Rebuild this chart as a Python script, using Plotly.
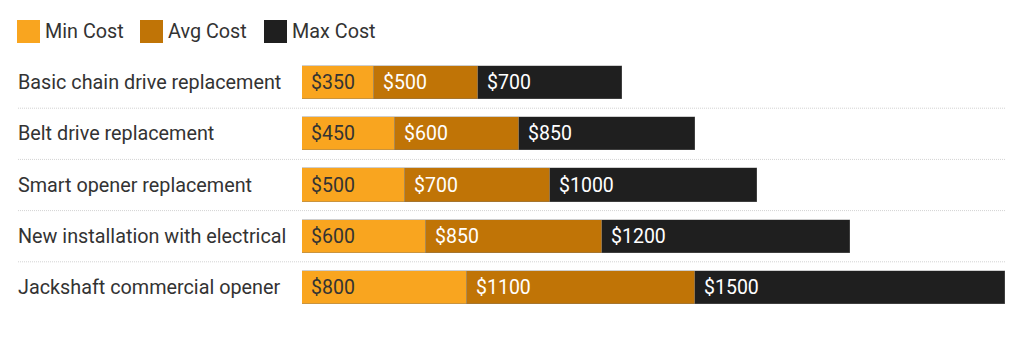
import plotly.graph_objects as go

# Garage door opener replacement cost ranges
tasks = [
    "Basic chain drive replacement",
    "Belt drive replacement",
    "Smart opener replacement",
    "New installation with electrical",
    "Jackshaft commercial opener",
]
min_cost = [350, 450, 500, 600, 800]
avg_cost = [500, 600, 700, 850, 1100]
max_cost = [700, 850, 1000, 1200, 1500]

series_names = ["Min Cost", "Avg Cost", "Max Cost"]
series_values = [min_cost, avg_cost, max_cost]
series_colors = ["#F9A51F", "#C07406", "#1F1F1F"]
label_colors = ["#333333", "#FFFFFF", "#FFFFFF"]

FONT = "Roboto, Arial, sans-serif"
W, H = 1024, 339
ML, MR, MT, MB = 302, 19, 57, 26
PW = W - ML - MR
PH = H - MT - MB


def px_x(p):
    return (p - ML) / PW


def px_y(p):
    return (H - MB - p) / PH


fig = go.Figure()
ypos = list(range(len(tasks)))

for name, vals, col in zip(series_names, series_values, series_colors):
    fig.add_trace(go.Bar(
        name=name,
        y=ypos,
        x=vals,
        orientation="h",
        marker=dict(color=col, line=dict(color="rgba(120,120,120,0.6)", width=0.6)),
        width=0.645,
        hoverinfo="x+name",
        showlegend=False,
    ))

annotations = []
# value labels at the start of each segment
for i in range(len(tasks)):
    base = 0
    for vals, tcol in zip(series_values, label_colors):
        annotations.append(dict(
            x=base, y=i, xref="x", yref="y",
            text=f"${vals[i]}", showarrow=False,
            xanchor="left", yanchor="middle", xshift=7,
            font=dict(family=FONT, size=19.5, color=tcol),
        ))
        base += vals[i]

# task labels in the left column
for i, t in enumerate(tasks):
    annotations.append(dict(
        x=px_x(16), y=i, xref="paper", yref="y",
        text=t, showarrow=False, xanchor="left", yanchor="middle",
        font=dict(family=FONT, size=19.8, color="#333333"),
    ))

shapes = []
# dotted row separators
for i in range(len(tasks) - 1):
    shapes.append(dict(
        type="line", xref="paper", yref="y",
        x0=px_x(18), x1=px_x(1005), y0=i + 0.5, y1=i + 0.5,
        line=dict(color="#D3D3D3", width=1, dash="1px,1px"),
    ))

# legend swatches and names
legend_items = [(17, 43), (140, 166), (264, 290)]
for (sx, tx), name, col in zip(legend_items, series_names, series_colors):
    shapes.append(dict(
        type="rect", xref="paper", yref="paper",
        x0=px_x(sx), x1=px_x(sx + 23), y0=px_y(43), y1=px_y(20),
        fillcolor=col, line=dict(width=0),
    ))
    annotations.append(dict(
        x=px_x(tx), y=px_y(31.5), xref="paper", yref="paper",
        text=name, showarrow=False, xanchor="left", yanchor="middle",
        font=dict(family=FONT, size=19.8, color="#333333"),
    ))

fig.update_layout(
    width=W, height=H,
    margin=dict(l=ML, r=MR, t=MT, b=MB),
    barmode="stack",
    bargap=0,
    paper_bgcolor="white",
    plot_bgcolor="white",
    xaxis=dict(range=[0, sum(v[-1] for v in series_values)], visible=False, fixedrange=True),
    yaxis=dict(range=[len(tasks) - 0.5, -0.5], visible=False, fixedrange=True),
    annotations=annotations,
    shapes=shapes,
    font=dict(family=FONT),
)

fig.write_html("out.html")
